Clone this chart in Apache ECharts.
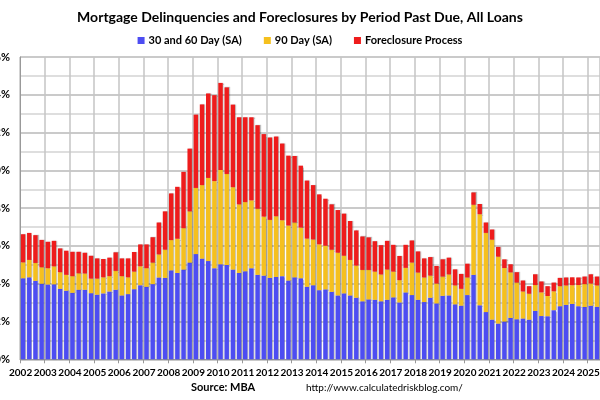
<!DOCTYPE html>
<html><head><meta charset="utf-8">
<script src="https://cdn.jsdelivr.net/npm/echarts@6/dist/echarts.min.js"></script>
<style>html,body{margin:0;padding:0;background:#fff}#c{width:600px;height:400px}</style>
</head><body><div id="c"></div>
<script>
const years = ['2002','2003','2004','2005','2006','2007','2008','2009','2010','2011','2012','2013','2014','2015','2016','2017','2018','2019','2020','2021','2022','2023','2024','2025'];
const quarterCount = 94;
const yTicks = ['0%','2%','4%','6%','8%','10%','12%','14%','16%'];
const seriesNames = ['30 and 60 Day (SA)','90 Day (SA)','Foreclosure Process'];

const day30and60 = [
4.29,4.34,4.15,4.00, 3.96,3.97,3.73,3.63, 3.52,3.68,3.68,3.50, 3.42,3.49,3.59,3.68,
3.38,3.45,3.71,3.92, 3.84,3.98,4.33,4.31, 4.71,4.57,4.75,5.12, 5.57,5.33,5.20,4.82,
5.03,4.99,4.75,4.57, 4.66,4.82,4.47,4.43, 4.31,4.36,4.40,4.17, 4.34,4.29,3.84,3.92,
3.66,3.70,3.57,3.38, 3.49,3.38,3.26,3.07, 3.17,3.15,3.07,3.15, 3.28,3.01,3.54,3.40,
3.15,3.03,3.26,2.96, 3.36,3.38,2.91,2.84, 3.40,4.47,2.86,2.50, 2.10,1.89,2.00,2.19,
2.12,2.16,2.10,2.56, 2.29,2.28,2.60,2.81, 2.88,2.93,2.81,2.77, 2.84,2.78];
const day90 = [
0.84,0.92,0.95,0.87, 0.86,0.95,0.88,0.84, 0.88,0.87,0.86,0.77, 0.85,0.85,0.81,1.00,
1.02,0.89,0.93,1.00, 0.98,1.14,1.22,1.49, 1.60,1.81,2.19,2.71, 3.50,3.89,4.40,4.61,
4.99,4.82,4.36,3.63, 3.66,3.59,3.50,3.12, 3.07,3.21,2.96,2.91, 2.90,2.68,2.55,2.42,
2.42,2.31,2.23,2.26, 1.99,1.88,1.70,1.66, 1.56,1.49,1.42,1.60, 1.36,1.18,1.30,1.72,
1.44,1.30,1.17,1.05, 1.02,1.11,1.00,0.89, 0.93,3.71,4.82,4.19, 4.23,3.54,2.83,2.41,
1.94,1.43,1.37,1.37, 1.25,1.07,1.00,1.06, 1.03,0.99,1.12,1.21, 1.17,1.13];
const foreclosure = [
1.49,1.43,1.47,1.45, 1.40,1.35,1.26,1.28, 1.29,1.14,1.10,1.21, 1.07,0.97,0.98,0.98,
0.94,1.00,1.04,1.16, 1.26,1.34,1.69,2.03, 2.47,2.75,2.98,3.32, 3.88,4.27,4.47,4.55,
4.61,4.58,4.37,4.61, 4.49,4.40,4.42,4.37, 4.36,4.22,4.06,3.70, 3.52,3.28,3.07,2.88,
2.65,2.49,2.40,2.26, 2.23,2.06,1.86,1.77, 1.72,1.61,1.55,1.52, 1.42,1.28,1.22,1.17,
1.12,1.01,0.98,0.93, 0.91,0.89,0.85,0.79, 0.73,0.65,0.54,0.55, 0.54,0.52,0.46,0.43,
0.55,0.58,0.40,0.57, 0.58,0.52,0.46,0.44, 0.42,0.42,0.40,0.40, 0.49,0.47];

const categories = [];
for (let i = 0; i < quarterCount; i++) categories.push(years[Math.floor(i/4)] + ' Q' + (i%4+1));

const colors = ['#4d4df2','#f5c01e','#ee1c1c'];
const F = 'Lato, "Open Sans", sans-serif';
const chart = echarts.init(document.getElementById('c'));
const mk = (name, data, color) => ({
  name, type:'bar', stack:'t', data, barCategoryGap:'28%',
  itemStyle:{color, shadowColor:'rgba(0,0,0,0.25)', shadowOffsetX:1, shadowBlur:1},
  emphasis:{disabled:true}, animation:false
});
chart.setOption({
  animation:false,
  title:{text:'Mortgage Delinquencies and Foreclosures by Period Past Due, All Loans', left:'center', top:5,
    textStyle:{fontFamily:F, fontWeight:'bold', fontSize:14, color:'#000'}},
  legend:{top:30, left:'center', itemWidth:7, itemHeight:7, itemGap:22, icon:'rect',
    textStyle:{fontFamily:F, fontWeight:'bold', fontSize:11, color:'#000', padding:[0,0,0,-1]},
    data:seriesNames},
  grid:{left:20, right:0, top:57, bottom:40.7, containLabel:false, outerBoundsMode:'none'},
  xAxis:{type:'category', data:categories, boundaryGap:true,
    axisLine:{lineStyle:{color:'#999', width:1}},
    axisTick:{show:true, interval:3, length:4, lineStyle:{color:'#999'}},
    splitLine:{show:true, interval:3, lineStyle:{color:'#c4c4c4', width:1.5}},
    axisLabel:{interval:3, hideOverlap:false, formatter:(v)=>v.slice(0,4), fontFamily:F, fontWeight:'bold', fontSize:10, color:'#000', margin:8, padding:[0,5,0,0]}},
  yAxis:{type:'value', min:0, max:16, interval:2,
    axisLine:{show:true, lineStyle:{color:'#999'}},
    axisLabel:{formatter:(v)=>yTicks[v/2], fontFamily:F, fontWeight:'bold', fontSize:11, color:'#000', margin:10},
    splitLine:{lineStyle:{color:'#b8b8b8', width:1.5}},
    minorTick:{show:false, splitNumber:2},
    minorSplitLine:{show:true, lineStyle:{color:'#d4d4d4', width:1.5}}},
  series:[mk(seriesNames[0], day30and60, colors[0]), mk(seriesNames[1], day90, colors[1]), mk(seriesNames[2], foreclosure, colors[2])],
  graphic:[
    {type:'text', left:191, top:382, style:{text:'Source: MBA', font:'bold 11px '+F, fill:'#000'}},
    {type:'text', left:306, top:383, style:{text:'http://www.calculatedriskblog.com/', font:'10px '+F, fill:'#000'}}
  ]
});
</script></body></html>
